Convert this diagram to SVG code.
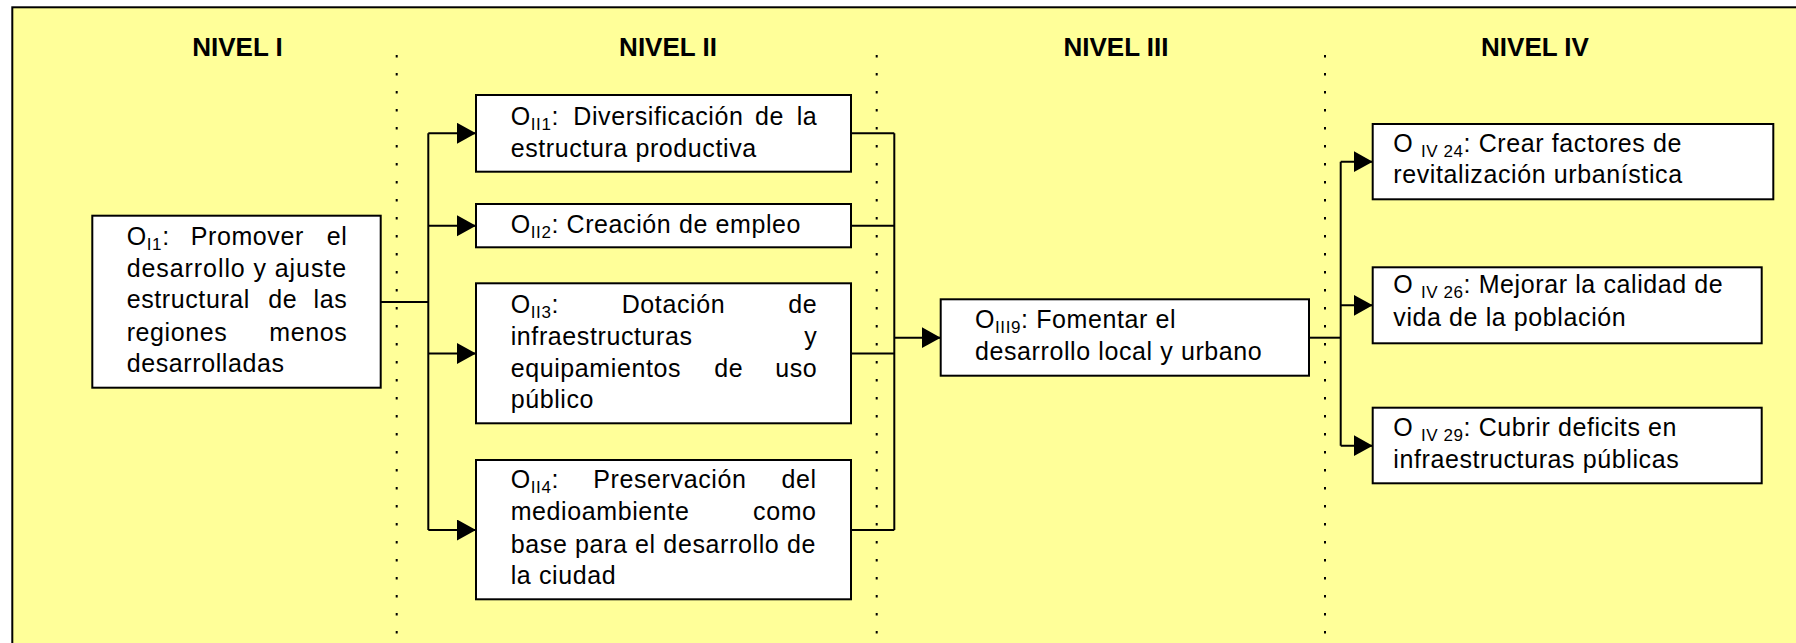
<svg xmlns="http://www.w3.org/2000/svg" width="1796" height="643" viewBox="0 0 1796 643">
<style>
.bg{fill:#FFFF99;stroke:#000;stroke-width:2}
.box{fill:#fff;stroke:#000;stroke-width:2}
.hdr{font-family:"Liberation Sans",Arial,sans-serif;font-size:26px;font-weight:bold;fill:#000;text-anchor:middle}
.t{font-family:"Liberation Sans",Arial,sans-serif;font-size:25px;fill:#000;letter-spacing:0.6px}
.e{text-anchor:end}
.sub{font-size:17px}
.dot{stroke:#000;stroke-width:2;stroke-dasharray:2.5 15.5;fill:none}
.c{stroke:#000;stroke-width:2;fill:none}
</style>
<defs>
<marker id="arr" markerUnits="userSpaceOnUse" markerWidth="20" markerHeight="22" refX="19" refY="10.5" orient="auto">
<path d="M0,0 L19,10.5 L0,21 Z" fill="#000"/>
</marker>
</defs>
<rect x="0" y="0" width="1796" height="643" fill="#fff"/>
<rect class="bg" x="12.3" y="7.3" width="1800" height="700"/>

<g id="headers">
<text class="hdr" x="237.5" y="56">NIVEL I</text>
<text class="hdr" x="668" y="56">NIVEL II</text>
<text class="hdr" x="1116" y="56">NIVEL III</text>
<text class="hdr" x="1535" y="56">NIVEL IV</text>
</g>

<g id="separators">
<line class="dot" x1="396.7" y1="55" x2="396.7" y2="643"/>
<line class="dot" x1="876.7" y1="55" x2="876.7" y2="643"/>
<line class="dot" x1="1325" y1="55" x2="1325" y2="643"/>
</g>

<g id="connectors">
<polyline class="c" points="380.7,302 428.3,302"/>
<line class="c" x1="428.3" y1="133.3" x2="428.3" y2="530"/>
<line class="c" x1="428.3" y1="133.3" x2="476" y2="133.3" marker-end="url(#arr)"/>
<line class="c" x1="428.3" y1="225.7" x2="476" y2="225.7" marker-end="url(#arr)"/>
<line class="c" x1="428.3" y1="353.5" x2="476" y2="353.5" marker-end="url(#arr)"/>
<line class="c" x1="428.3" y1="530" x2="476" y2="530" marker-end="url(#arr)"/>
<line class="c" x1="851" y1="133.3" x2="894.3" y2="133.3"/>
<line class="c" x1="851" y1="225.7" x2="894.3" y2="225.7"/>
<line class="c" x1="851" y1="353.5" x2="894.3" y2="353.5"/>
<line class="c" x1="851" y1="530" x2="894.3" y2="530"/>
<line class="c" x1="894.3" y1="133.3" x2="894.3" y2="530"/>
<line class="c" x1="894.3" y1="337.7" x2="940.7" y2="337.7" marker-end="url(#arr)"/>
<line class="c" x1="1309" y1="337.7" x2="1340.7" y2="337.7"/>
<line class="c" x1="1340.7" y1="161.7" x2="1340.7" y2="445.7"/>
<line class="c" x1="1340.7" y1="161.7" x2="1372.7" y2="161.7" marker-end="url(#arr)"/>
<line class="c" x1="1340.7" y1="305.3" x2="1372.7" y2="305.3" marker-end="url(#arr)"/>
<line class="c" x1="1340.7" y1="445.7" x2="1372.7" y2="445.7" marker-end="url(#arr)"/>
</g>

<g id="OI1">
<rect class="box" x="92.3" y="215.7" width="288.4" height="172"/>
<text class="t" y="245"><tspan x="126.7">O</tspan><tspan class="sub" dy="5">I1</tspan><tspan dy="-5">:</tspan><tspan x="190.7">Promover</tspan></text>
<text class="t e" x="347.3" y="245">el</text>
<text class="t" x="126.7" y="276.7" textLength="220" lengthAdjust="spacing">desarrollo y ajuste</text>
<text class="t" y="308.3"><tspan x="126.7">estructural</tspan><tspan x="268.3">de</tspan></text>
<text class="t e" x="347.3" y="308.3">las</text>
<text class="t" x="126.7" y="340.7">regiones</text>
<text class="t e" x="347.3" y="340.7">menos</text>
<text class="t" x="126.7" y="372.3">desarrolladas</text>
</g>

<g id="OII1">
<rect class="box" x="476" y="95" width="375" height="76.7"/>
<text class="t" y="125"><tspan x="510.7">O</tspan><tspan class="sub" dy="5">II1</tspan><tspan dy="-5">:</tspan><tspan x="573.3">Diversificación</tspan><tspan x="755">de</tspan></text>
<text class="t e" x="817.3" y="125">la</text>
<text class="t" x="510.7" y="156.7">estructura productiva</text>
</g>

<g id="OII2">
<rect class="box" x="476" y="204" width="375" height="43.3"/>
<text class="t" x="510.7" y="233.3">O<tspan class="sub" dy="5">II2</tspan><tspan dy="-5">: Creación de empleo</tspan></text>
</g>

<g id="OII3">
<rect class="box" x="476" y="283.3" width="375" height="140"/>
<text class="t" y="312.7"><tspan x="510.7">O</tspan><tspan class="sub" dy="5">II3</tspan><tspan dy="-5">:</tspan><tspan x="621.7">Dotación</tspan></text>
<text class="t e" x="817.3" y="312.7">de</text>
<text class="t" x="510.7" y="345">infraestructuras</text>
<text class="t e" x="817.3" y="345">y</text>
<text class="t" y="376.7"><tspan x="510.7">equipamientos</tspan><tspan x="714.3">de</tspan></text>
<text class="t e" x="817.3" y="376.7">uso</text>
<text class="t" x="510.7" y="408">público</text>
</g>

<g id="OII4">
<rect class="box" x="476" y="460" width="375" height="139.3"/>
<text class="t" y="488.3"><tspan x="510.7">O</tspan><tspan class="sub" dy="5">II4</tspan><tspan dy="-5">:</tspan><tspan x="593.3">Preservación</tspan></text>
<text class="t e" x="816.6" y="488.3">del</text>
<text class="t" x="510.7" y="520">medioambiente</text>
<text class="t e" x="816.6" y="520">como</text>
<text class="t" x="510.7" y="553.3" textLength="305.3" lengthAdjust="spacing">base para el desarrollo de</text>
<text class="t" x="510.7" y="584">la ciudad</text>
</g>

<g id="OIII9">
<rect class="box" x="940.7" y="299.3" width="368.3" height="76.4"/>
<text class="t" x="975" y="328.3">O<tspan class="sub" dy="5">III9</tspan><tspan dy="-5">: Fomentar el</tspan></text>
<text class="t" x="975" y="360">desarrollo local y urbano</text>
</g>

<g id="OIV24">
<rect class="box" x="1372.7" y="124" width="400.6" height="75.3"/>
<text class="t" x="1393.3" y="151.7">O <tspan class="sub" dy="5">IV 24</tspan><tspan dy="-5">: Crear factores de</tspan></text>
<text class="t" x="1393.3" y="183.3">revitalización urbanística</text>
</g>

<g id="OIV26">
<rect class="box" x="1372.7" y="267.3" width="389" height="76"/>
<text class="t" x="1393.3" y="293.3">O <tspan class="sub" dy="5">IV 26</tspan><tspan dy="-5">: Mejorar la calidad de</tspan></text>
<text class="t" x="1393.3" y="325.5">vida de la población</text>
</g>

<g id="OIV29">
<rect class="box" x="1372.7" y="407.7" width="389" height="75.6"/>
<text class="t" x="1393.3" y="436">O <tspan class="sub" dy="5">IV 29</tspan><tspan dy="-5">: Cubrir deficits en</tspan></text>
<text class="t" x="1393.3" y="467.7">infraestructuras públicas</text>
</g>
</svg>
